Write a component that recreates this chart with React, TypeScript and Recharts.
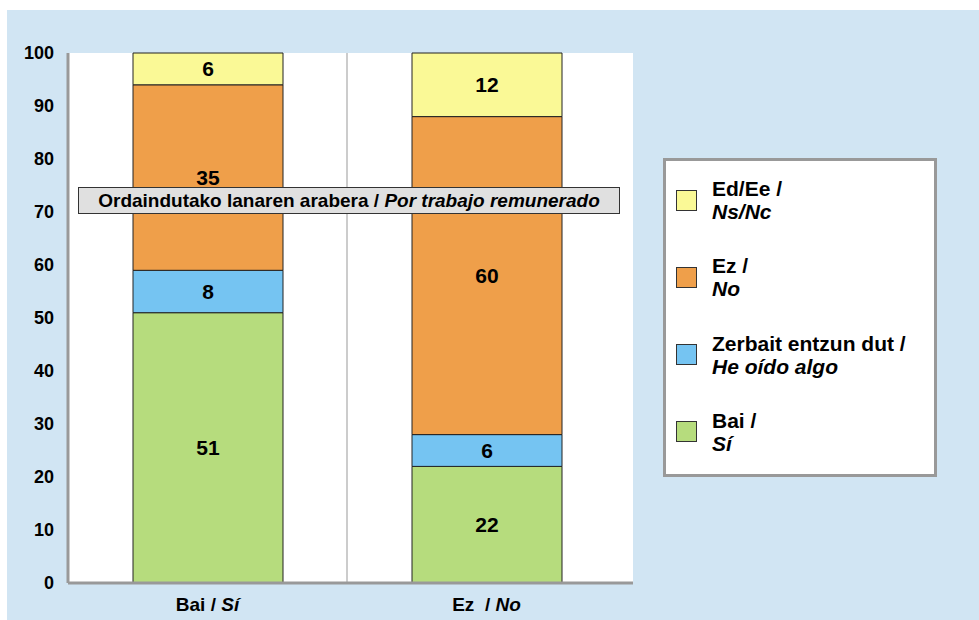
import { Bar, BarChart, CartesianGrid, LabelList, XAxis, YAxis } from 'recharts';

const categories = ['Bai / ', 'Ez  / '];
const categoriesEs = ['Sí', 'No'];
const bai = [51, 22];
const zerbait = [8, 6];
const ez = [35, 60];
const eded = [6, 12];
const yTicks = [0, 10, 20, 30, 40, 50, 60, 70, 80, 90, 100];

const series = [
  { key: 'eded', eu: 'Ed/Ee /', es: 'Ns/Nc', color: '#FAF996' },
  { key: 'ez', eu: 'Ez /', es: 'No', color: '#EF9F4A' },
  { key: 'zerbait', eu: 'Zerbait entzun dut /', es: 'He oído algo', color: '#75C4F2' },
  { key: 'bai', eu: 'Bai /', es: 'Sí', color: '#B6DC7D' },
];

const data = categories.map((name, i) => ({
  name,
  bai: bai[i],
  zerbait: zerbait[i],
  ez: ez[i],
  eded: eded[i],
}));

const font = '"Liberation Sans", Arial, sans-serif';

const XTick = (props: any) => {
  const { x, y, payload, index } = props;
  return (
    <text x={x} y={y + 28} textAnchor="middle" fontFamily={font} fontSize={19} fontWeight="bold" fill="#000" style={{ whiteSpace: 'pre' }}>
      <tspan>{payload.value}</tspan>
      <tspan fontStyle="italic">{categoriesEs[index]}</tspan>
    </text>
  );
};

export default function App() {
  return (
    <div style={{ position: 'absolute', left: 0, top: 0, width: 979, height: 620, fontFamily: font, overflow: 'hidden' }}>
      <div style={{ position: 'absolute', left: 7, top: 10, right: 0, bottom: 0, background: '#D1E5F3' }} />
      <div style={{ position: 'absolute', left: 0, top: 0 }}>
        <BarChart width={979} height={620} data={data} margin={{ top: 53, right: 346, bottom: 0, left: 0 }} barSize={150}>
          <CartesianGrid
            fill="#fff"
            horizontal={false}
            stroke="#999"
            verticalCoordinatesGenerator={({ offset }: any) => [offset.left + (offset.width - 7) / 2]}
          />
          <XAxis
            dataKey="name"
            height={37}
            tickSize={0}
            tickMargin={0}
            tick={<XTick />}
            axisLine={{ stroke: '#999', strokeWidth: 3 }}
            padding={{ left: 0, right: 7 }}
          />
          <XAxis xAxisId="top" orientation="top" dataKey="name" height={0} tick={false} tickLine={false} axisLine={{ stroke: '#999', strokeWidth: 3 }} />
          <YAxis
            domain={[0, 100]}
            ticks={yTicks}
            width={68}
            tickSize={0}
            tickMargin={14}
            tickLine={false}
            axisLine={{ stroke: '#999', strokeWidth: 3 }}
            tick={{ fontFamily: font, fontSize: 18, fontWeight: 'bold', fill: '#000' }}
            interval={0}
          />
          <YAxis yAxisId="r" orientation="right" width={0} tick={false} tickLine={false} axisLine={{ stroke: '#999', strokeWidth: 3 }} />
          {[...series].reverse().map((s) => (
            <Bar key={s.key} dataKey={s.key} stackId="a" fill={s.color} stroke="#222" strokeWidth={1} isAnimationActive={false}>
              <LabelList dataKey={s.key} position="center" fill="#000" fontFamily={font} fontSize={21} fontWeight="bold" />
            </Bar>
          ))}
        </BarChart>
      </div>
      <div
        style={{
          position: 'absolute',
          left: 78,
          top: 187,
          width: 540,
          height: 25,
          background: '#E0E0E0',
          border: '1px solid #333',
          fontSize: 19,
          fontWeight: 'bold',
          lineHeight: '25px',
          textAlign: 'center',
          color: '#000',
          whiteSpace: 'nowrap',
        }}
      >
        Ordaindutako lanaren arabera / <i>Por trabajo remunerado</i>
      </div>
      <div
        style={{
          position: 'absolute',
          left: 663,
          top: 158,
          width: 268,
          height: 313,
          background: '#fff',
          border: '3px solid #999',
        }}
      >
        {series.map((s, i) => (
          <div key={s.key} style={{ position: 'absolute', left: 10, top: 16 + i * 77.3, display: 'flex', alignItems: 'center' }}>
            <div style={{ width: 19, height: 19, background: s.color, border: '1px solid #333', marginRight: 15 }} />
            <div style={{ fontSize: 21, fontWeight: 'bold', lineHeight: '23px', color: '#000', whiteSpace: 'nowrap' }}>
              <div>{s.eu}</div>
              <div style={{ fontStyle: 'italic' }}>{s.es}</div>
            </div>
          </div>
        ))}
      </div>
    </div>
  );
}
